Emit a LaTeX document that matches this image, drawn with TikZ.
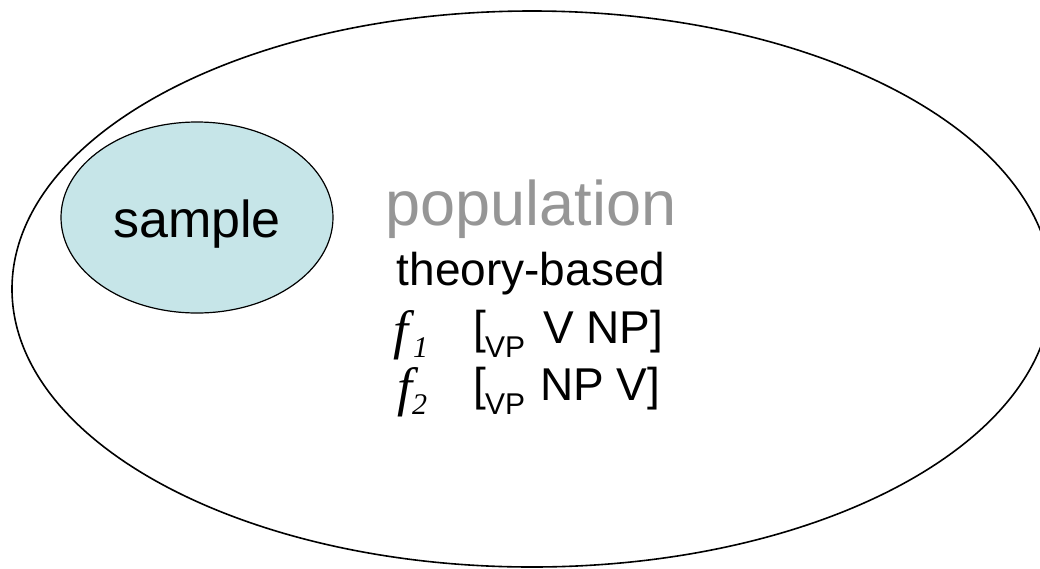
\documentclass[tikz,border=0pt]{standalone}
\usepackage{fontspec}
\setmainfont{Liberation Sans}
\newfontfamily\tms{Liberation Serif}
\usetikzlibrary{shapes.geometric}
\definecolor{samplefill}{RGB}{198,229,232}
\definecolor{popgray}{RGB}{150,150,150}
\tikzset{
  bigell/.style={draw=black, line width=1.6pt, ellipse, inner sep=0pt, minimum width=1040pt, minimum height=556pt},
  smallell/.style={draw=black, line width=1.2pt, fill=samplefill, ellipse, inner sep=0pt, minimum width=272pt, minimum height=191pt, text height=50pt, text depth=11pt, font=\fontsize{52}{52}\selectfont},
  txt/.style={inner sep=0pt, anchor=base},
  txtw/.style={inner sep=0pt, anchor=base west},
  mainf/.style={font=\fontsize{46}{46}\selectfont},
  subf/.style={font=\fontsize{30}{30}\selectfont},
  ff/.style={font=\tms\itshape\fontsize{54}{54}\selectfont},
  fsub/.style={font=\tms\itshape\fontsize{30}{30}\selectfont}
}
\begin{document}
\begin{tikzpicture}[x=1pt,y=-1pt]
\useasboundingbox (0,0) rectangle (1040,568);
\clip (0,0) rectangle (1040,568);
\fill[white] (0,0) rectangle (1040,568);
\node[bigell] (pop) at (532,289) {};
\node[smallell] (sample) at (197,217.5) {sample};
\node[txt, text=popgray, font=\fontsize{63}{63}\selectfont] (poplabel) at (531,225) {population};
\node[txt, mainf] (theory) at (531,285) {theory-based};
% line 1
\node[txtw, ff] (fa) at (393,348) {f};
\node[txtw, fsub] (fasub) at (413,357) {1};
\node[txtw, mainf] (bra) at (473,343) {[};
\node[txtw, subf] (vpa) at (485,357) {VP};
\node[txtw, mainf] (resta) at (543,343) {V NP]};
% line 2
\node[txtw, ff] (fb) at (397,405) {f};
\node[txtw, fsub] (fbsub) at (412,414) {2};
\node[txtw, mainf] (brb) at (473,400) {[};
\node[txtw, subf] (vpb) at (485,414) {VP};
\node[txtw, mainf] (restb) at (540,400) {NP V]};
\end{tikzpicture}
\end{document}
